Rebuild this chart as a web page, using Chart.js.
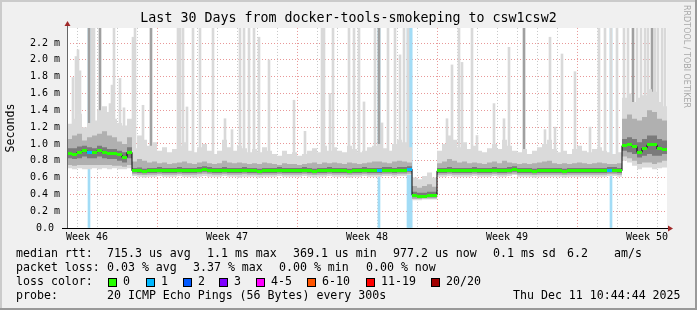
<!DOCTYPE html>
<html>
<head>
<meta charset="utf-8">
<script src="https://cdn.jsdelivr.net/npm/chart.js@4.4.0/dist/chart.umd.min.js"></script>
<style>
  html, body { margin: 0; padding: 0; background: #f0f0f0; }
</style>
</head>
<body>
<canvas id="chart" width="697" height="310"></canvas>
<script>
// one sample every 6 hours over the 30 day window (values in ms)
const STEP = 0.25;
const Y_MAX = 2.38;

const median = [
  0.89,0.88,0.90,0.92,0.90,0.90,0.92,0.90,0.89,0.89,0.87,0.84,0.90,
  0.68,0.68,0.67,0.68,0.68,0.69,0.68,0.68,
  0.68,0.69,0.68,0.68,0.68,0.69,0.70,0.69,
  0.68,0.68,0.69,0.68,0.68,0.68,0.69,0.68,
  0.68,0.67,0.68,0.68,0.68,0.69,0.68,0.68,
  0.68,0.68,0.69,0.68,0.67,0.68,0.68,0.69,
  0.68,0.68,0.68,0.67,0.68,0.68,0.69,0.68,
  0.68,0.68,0.69,0.69,0.68,0.69,0.69,0.70,
  0.39,0.38,0.38,0.39,0.39,
  0.68,0.68,0.69,0.68,0.68,0.68,0.68,0.69,
  0.68,0.68,0.68,0.69,0.68,0.68,0.69,0.70,
  0.68,0.68,0.68,0.67,0.68,0.68,0.68,0.68,
  0.68,0.67,0.68,0.68,0.68,0.68,0.68,0.68,
  0.68,0.68,0.69,0.69,0.68,
  0.98,0.99,0.97,0.90,0.95,0.99,0.99,0.94,0.93
];

// smoke: inner (dark), middle and outer (light) ping spread
const darkLo = [
  0.83,0.82,0.83,0.85,0.83,0.83,0.85,0.83,0.82,0.82,0.80,0.78,0.83,
  0.66,0.655,0.65,0.655,0.655,0.66,0.655,0.655,
  0.655,0.66,0.655,0.655,0.655,0.66,0.67,0.66,
  0.655,0.655,0.66,0.655,0.655,0.655,0.66,0.655,
  0.655,0.65,0.655,0.655,0.655,0.66,0.655,0.655,
  0.655,0.655,0.66,0.655,0.65,0.655,0.655,0.66,
  0.655,0.655,0.655,0.65,0.655,0.655,0.66,0.655,
  0.655,0.655,0.66,0.66,0.655,0.66,0.66,0.67,
  0.365,0.36,0.36,0.365,0.365,
  0.655,0.655,0.66,0.655,0.655,0.655,0.655,0.66,
  0.655,0.655,0.655,0.66,0.655,0.655,0.66,0.67,
  0.655,0.655,0.655,0.65,0.655,0.655,0.655,0.655,
  0.655,0.65,0.655,0.655,0.655,0.655,0.655,0.655,
  0.655,0.655,0.66,0.66,0.655,
  0.92,0.90,0.88,0.84,0.86,0.88,0.86,0.86,0.88
];
const darkHi = [
  0.95,0.95,0.97,0.98,0.96,0.95,0.98,0.96,0.94,0.94,0.92,0.90,0.96,
  0.715,0.72,0.705,0.715,0.715,0.725,0.715,0.715,
  0.715,0.725,0.715,0.715,0.715,0.725,0.735,0.725,
  0.715,0.715,0.725,0.715,0.715,0.715,0.725,0.715,
  0.715,0.705,0.715,0.715,0.715,0.725,0.715,0.715,
  0.715,0.715,0.725,0.715,0.705,0.715,0.715,0.725,
  0.715,0.715,0.715,0.705,0.715,0.715,0.725,0.715,
  0.715,0.715,0.725,0.725,0.715,0.725,0.725,0.735,
  0.43,0.42,0.42,0.43,0.43,
  0.715,0.715,0.725,0.715,0.715,0.715,0.715,0.725,
  0.715,0.715,0.715,0.725,0.715,0.715,0.725,0.735,
  0.715,0.715,0.715,0.705,0.715,0.715,0.715,0.715,
  0.715,0.705,0.715,0.715,0.715,0.715,0.715,0.715,
  0.715,0.715,0.725,0.725,0.715,
  1.06,1.08,1.06,1.02,1.06,1.10,1.10,1.06,1.04
];
const midLo = [
  0.75,0.74,0.75,0.75,0.75,0.75,0.75,0.75,0.75,0.74,0.74,0.73,0.75,
  0.64,0.635,0.63,0.635,0.635,0.64,0.635,0.635,
  0.635,0.64,0.635,0.635,0.635,0.64,0.645,0.64,
  0.635,0.635,0.64,0.635,0.635,0.635,0.64,0.635,
  0.635,0.63,0.635,0.635,0.635,0.64,0.635,0.635,
  0.635,0.635,0.64,0.635,0.63,0.635,0.635,0.64,
  0.635,0.635,0.635,0.63,0.635,0.635,0.64,0.635,
  0.635,0.635,0.64,0.64,0.635,0.64,0.64,0.645,
  0.345,0.345,0.35,0.35,0.35,
  0.635,0.635,0.64,0.635,0.635,0.635,0.635,0.64,
  0.635,0.635,0.635,0.64,0.635,0.635,0.64,0.645,
  0.635,0.635,0.635,0.63,0.635,0.635,0.635,0.635,
  0.635,0.63,0.635,0.635,0.635,0.635,0.635,0.635,
  0.635,0.635,0.64,0.64,0.635,
  0.85,0.83,0.80,0.76,0.78,0.78,0.76,0.78,0.80
];
const midHi = [
  1.06,1.10,1.12,1.04,1.08,1.10,1.12,1.15,1.10,1.08,1.03,1.00,1.08,
  0.79,0.82,0.80,0.78,0.79,0.77,0.78,0.76,
  0.77,0.78,0.79,0.77,0.76,0.78,0.79,0.77,
  0.76,0.77,0.80,0.78,0.77,0.78,0.77,0.76,
  0.77,0.76,0.78,0.77,0.76,0.75,0.77,0.76,
  0.76,0.75,0.76,0.77,0.78,0.76,0.78,0.77,
  0.78,0.77,0.76,0.78,0.77,0.76,0.77,0.78,
  0.79,0.79,0.78,0.77,0.79,0.80,0.79,0.78,
  0.50,0.48,0.50,0.52,0.49,
  0.77,0.79,0.82,0.80,0.78,0.79,0.77,0.78,
  0.77,0.76,0.78,0.79,0.77,0.80,0.78,0.77,
  0.76,0.77,0.76,0.77,0.78,0.79,0.80,0.77,
  0.76,0.77,0.76,0.77,0.78,0.77,0.76,0.77,
  0.78,0.77,0.76,0.76,0.77,
  1.30,1.35,1.30,1.28,1.32,1.40,1.38,1.30,1.28
];
const lightLo = [
  0.71,0.70,0.71,0.70,0.70,0.71,0.70,0.71,0.70,0.71,0.70,0.70,0.71,
  0.62,0.61,0.60,0.61,0.61,0.62,0.61,0.61,
  0.61,0.62,0.61,0.61,0.60,0.61,0.62,0.61,
  0.61,0.61,0.62,0.61,0.61,0.60,0.61,0.61,
  0.61,0.60,0.61,0.61,0.61,0.62,0.61,0.61,
  0.61,0.61,0.62,0.61,0.60,0.61,0.61,0.62,
  0.61,0.61,0.61,0.60,0.61,0.61,0.62,0.61,
  0.61,0.61,0.62,0.62,0.61,0.62,0.62,0.63,
  0.33,0.33,0.34,0.34,0.34,
  0.61,0.61,0.62,0.61,0.61,0.61,0.61,0.62,
  0.61,0.61,0.61,0.62,0.61,0.61,0.62,0.63,
  0.61,0.61,0.61,0.60,0.61,0.61,0.61,0.61,
  0.61,0.60,0.61,0.61,0.61,0.61,0.61,0.61,
  0.61,0.61,0.62,0.62,0.61,
  0.80,0.78,0.74,0.70,0.72,0.72,0.70,0.71,0.72
];
const lightHi = [
  1.24,1.30,1.36,1.20,1.25,1.28,1.40,1.45,1.38,1.30,1.25,1.22,1.30,
  0.95,1.10,1.05,0.98,1.02,0.92,0.96,0.90,
  0.94,0.98,1.02,0.92,0.90,0.96,1.00,0.92,
  0.88,0.92,1.05,0.96,0.92,0.98,0.95,0.90,
  0.94,0.90,0.96,0.92,0.88,0.86,0.92,0.88,
  0.90,0.86,0.88,0.92,0.95,0.90,0.98,0.92,
  0.96,0.92,0.90,0.98,0.94,0.90,0.92,0.96,
  0.98,1.00,0.95,0.92,1.00,1.05,1.02,0.96,
  0.60,0.58,0.62,0.66,0.60,
  0.92,1.00,1.10,1.05,0.96,1.02,0.94,0.98,
  0.92,0.90,0.95,1.00,0.94,1.05,0.98,0.92,
  0.90,0.94,0.88,0.92,0.96,1.00,1.05,0.94,
  0.90,0.92,0.88,0.94,0.98,0.92,0.90,0.94,
  0.96,0.92,0.90,0.88,0.90,
  1.55,1.60,1.50,1.55,1.58,1.65,1.62,1.50,1.45
];

// single slow pings (spikes), day of the window and peak in ms
const lightSpikeDays = [0.3,0.45,0.55,0.65,1.25,1.35,2.0,2.15,2.25,2.35,2.65,2.85,3.3,3.4,3.8,
  5.55,5.65,5.8,6.0,6.3,6.65,7.3,7.9,8.25,8.65,8.85,9.1,9.35,9.6,10.1,11.35,11.9,12.75,12.85,
  13.15,13.3,14.1,14.35,14.6,14.85,15.4,15.75,16.05,16.4,16.65,16.85,17.05,19.0,19.25,19.6,
  19.75,20.25,20.5,21.35,21.85,22.1,23.9,24.15,24.4,24.75,25.4,26.15,26.6,26.9,27.2,27.5,
  27.85,28.05,28.5,28.7,28.9,29.05,29.4,29.55,29.75,29.9];
const lightSpikeTops = [1.79,2.04,2.12,1.87,2.4,2.4,1.35,1.48,1.70,2.4,1.78,1.43,2.27,2.4,1.46,
  2.4,2.4,2.4,1.44,2.4,2.4,2.4,1.30,1.17,2.4,2.4,2.4,2.4,2.27,2.0,1.52,1.15,2.4,2.4,
  1.6,2.4,2.4,2.38,2.4,1.5,2.4,1.25,2.4,2.4,2.06,2.4,2.4,1.3,1.94,2.4,
  1.97,2.4,1.1,1.48,1.3,2.15,1.17,2.27,1.2,2.07,1.86,1.2,2.4,2.4,2.4,2.4,
  2.4,2.4,2.4,2.4,2.4,2.4,2.4,2.4,2.4,2.4];
const darkSpikeDays = [1.1, 1.65, 4.2, 15.6, 22.85, 28.3, 29.25];
const darkSpikeTops = [2.4, 2.4, 2.4, 2.4, 2.4, 2.4, 2.4];

// packet loss events (pings lost out of 20)
const lossDays = [1.1, 15.6, 17.05, 17.13, 17.21, 27.2];
const lossCounts = [1, 1, 1, 1, 1, 1];

const lossLabels = ['0', '1', '2', '3', '4-5', '6-10', '11-19', '20/20'];
const lossColors = ['#26ff00', '#00b8ff', '#0059ff', '#7e00ff', '#ff00ff', '#ff5500', '#ff0000', '#a10000'];
const lossLimits = [0, 1, 2, 3, 5, 10, 19, 20];

const weekLabels = ['Week 46', 'Week 47', 'Week 48', 'Week 49', 'Week 50'];
const weekLabelDays = [1, 8, 15, 22, 29];
const weekStartDays = [4.5, 11.5, 18.5, 25.5];
const yTicks = Array.from({length: 24}, (_, i) => i / 10);
const dayLines = Array.from({length: 30}, (_, i) => i + 0.5);

const titleText = 'Last 30 Days from docker-tools-smokeping to csw1csw2';
const rttStats = ['715.3 us avg', '1.1 ms max', '369.1 us min', '977.2 us now', '0.1 ms sd', '6.2', 'am/s'];
const lossStats = ['0.03 % avg', '3.37 % max', '0.00 % min', '0.00 % now'];
const probeText = '20 ICMP Echo Pings (56 Bytes) every 300s';
const stampText = 'Thu Dec 11 10:44:44 2025';

// ---- helpers
const MONO = '"DejaVu Sans Mono", monospace';
const GRID_MINOR = '#c8c8c8';
const GRID_MAJOR = '#e89898';
const stepPts = arr => arr.map((v, i) => ({x: i * STEP, y: v})).concat([{x: 30, y: arr[arr.length - 1]}]);
const medianAt = d => median[Math.min(median.length - 1, Math.floor(d / STEP))];
const lossBucket = n => lossLimits.findIndex(l => n <= l);

const sampleLoss = median.map((_, i) => {
  let n = 0;
  lossDays.forEach((d, k) => {
    if (d >= i * STEP && d < (i + 1) * STEP) n = Math.max(n, lossCounts[k]);
  });
  return n;
});

// little horizontal dash used as the median marker
function dash(color) {
  const c = document.createElement('canvas');
  c.width = 5; c.height = 3;
  const g = c.getContext('2d');
  g.fillStyle = color;
  g.fillRect(0, 0, 5, 3);
  return c;
}
const dashes = lossColors.map(dash);

function band(lo, hi, color, order) {
  return [
    { type: 'line', data: stepPts(lo), stepped: true, pointRadius: 0, borderColor: 'transparent', borderWidth: 0, fill: false, order: order },
    { type: 'line', data: stepPts(hi), stepped: true, pointRadius: 0, borderColor: 'transparent', borderWidth: 0, fill: '-1', backgroundColor: color, order: order }
  ];
}

const decor = {
  id: 'decor',
  beforeDraw(chart) {
    const {ctx, chartArea: a, width, height} = chart;
    ctx.save();
    ctx.fillStyle = '#f0f0f0';
    ctx.fillRect(0, 0, width, height);
    ctx.fillStyle = '#cbcbcb';
    ctx.fillRect(0, 0, width, 2);
    ctx.fillRect(0, 0, 2, height);
    ctx.fillStyle = '#999999';
    ctx.fillRect(width - 2, 0, 2, height);
    ctx.fillRect(0, height - 2, width, 2);
    ctx.fillStyle = '#ffffff';
    ctx.fillRect(a.left, a.top, a.right - a.left, a.bottom - a.top);
    ctx.restore();
  },
  afterDatasetsDraw(chart) {
    const {ctx, chartArea: a} = chart;
    ctx.save();
    ctx.fillStyle = '#666666';
    ctx.fillRect(a.left, a.top - 4, 1, a.bottom - a.top + 4);
    ctx.fillStyle = '#000000';
    ctx.fillRect(a.left - 5, a.bottom, a.right - a.left + 7, 1);
    ctx.fillStyle = '#a02828';
    ctx.beginPath();
    ctx.moveTo(a.left - 2.5, a.top - 2);
    ctx.lineTo(a.left + 3.5, a.top - 2);
    ctx.lineTo(a.left + 0.5, a.top - 7);
    ctx.fill();
    ctx.beginPath();
    ctx.moveTo(a.right + 1, a.bottom - 2.5);
    ctx.lineTo(a.right + 1, a.bottom + 3.5);
    ctx.lineTo(a.right + 6, a.bottom + 0.5);
    ctx.fill();
    ctx.restore();
  },
  afterDraw(chart) {
    const ctx = chart.ctx;
    ctx.save();
    ctx.font = '11.6px ' + MONO;
    ctx.fillStyle = '#000';
    ctx.textBaseline = 'middle';
    const row = (y, items) => items.forEach(([t, x]) => ctx.fillText(t, x, y));
    row(254, [['median rtt:', 16], [rttStats[0], 107], [rttStats[1], 207], [rttStats[2], 293],
      [rttStats[3], 393], [rttStats[4], 493], [rttStats[5], 567], [rttStats[6], 614]]);
    row(268, [['packet loss:', 16], [lossStats[0], 107], [lossStats[1], 193], [lossStats[2], 279], [lossStats[3], 366]]);
    ctx.fillText('loss color:', 16, 282);
    const boxX = [108, 146, 183, 219, 256, 307, 366, 431];
    lossLabels.forEach((l, i) => {
      ctx.fillStyle = '#000';
      ctx.fillRect(boxX[i], 278, 9, 9);
      ctx.fillStyle = lossColors[i];
      ctx.fillRect(boxX[i] + 1, 279, 7, 7);
      ctx.fillStyle = '#000';
      ctx.fillText(l, boxX[i] + 15, 282);
    });
    row(296, [['probe:', 16], [probeText, 107], [stampText, 513]]);

    ctx.translate(686, 5);
    ctx.rotate(Math.PI / 2);
    ctx.font = '8px "DejaVu Sans", sans-serif';
    ctx.fillStyle = '#a8a8a8';
    ctx.textBaseline = 'middle';
    ctx.fillText('RRDTOOL / TOBI OETIKER', 0, 0);
    ctx.restore();
  }
};

const datasets = [
  // median markers coloured by loss
  { type: 'line', showLine: false, order: 1,
    data: median.map((v, i) => ({x: i * STEP + STEP / 2, y: v})),
    pointRadius: 3, pointStyle: c => dashes[lossBucket(sampleLoss[c.dataIndex] || 0)] },
  { type: 'line', order: 2, data: stepPts(median), stepped: true, pointRadius: 0,
    borderColor: '#000000', borderWidth: 1, fill: false },
  ...band(darkLo, darkHi, '#7a7a7a', 3),
  ...band(midLo, midHi, '#b0b0b0', 4),
  ...band(lightLo, lightHi, '#dadada', 5),
  { type: 'bar', order: 6, grouped: false, barThickness: 2, backgroundColor: '#a0a0a0', borderWidth: 0,
    data: darkSpikeDays.map((d, k) => ({x: d, y: [medianAt(d), darkSpikeTops[k]]})) },
  { type: 'bar', order: 7, grouped: false, barThickness: 2, backgroundColor: '#d9d9d9', borderWidth: 0,
    data: lightSpikeDays.map((d, k) => ({x: d, y: [medianAt(d), lightSpikeTops[k]]})) },
  { type: 'bar', order: 8, grouped: false, barThickness: 2, backgroundColor: '#a2dcf6', borderWidth: 0,
    data: lossDays.map(d => ({x: d, y: [0, Y_MAX]})) }
];

new Chart(document.getElementById('chart'), {
  type: 'line',
  data: { datasets },
  plugins: [decor],
  options: {
    responsive: false,
    animation: false,
    devicePixelRatio: 1,
    events: [],
    layout: { padding: 0 },
    plugins: {
      legend: { display: false },
      tooltip: { enabled: false },
      title: {
        display: true, text: titleText, color: '#000',
        font: { family: MONO, size: 13.3, weight: 'normal' },
        padding: { top: 10.5, bottom: 1.5 }
      }
    },
    scales: {
      x: {
        type: 'linear', position: 'bottom', min: 0, max: 30, offset: false,
        afterBuildTicks: s => { s.ticks = dayLines.map(v => ({value: v})); },
        afterFit: s => { s.height = 0; },
        ticks: { display: false },
        grid: { drawTicks: false, offset: false,
          color: c => (c.tick && weekStartDays.includes(c.tick.value)) ? GRID_MAJOR : GRID_MINOR },
        border: { display: false, dash: [1, 2] }
      },
      xl: {
        type: 'linear', position: 'bottom', min: 0, max: 30, offset: false,
        afterBuildTicks: s => { s.ticks = weekLabelDays.map(v => ({value: v})); },
        afterFit: s => { s.height = 82; },
        ticks: { autoSkip: false, maxRotation: 0, padding: 3, color: '#000',
          font: { family: MONO, size: 10 },
          callback: (v, i) => weekLabels[i] },
        grid: { display: false, drawTicks: false, offset: false },
        border: { display: false }
      },
      y: {
        type: 'linear', position: 'left', min: 0, max: Y_MAX,
        afterBuildTicks: s => { s.ticks = yTicks.map(v => ({value: v})); },
        afterFit: s => { s.width = 67; },
        ticks: { padding: 7, color: '#000', font: { family: MONO, size: 10 },
          callback: (v, i) => i % 2 ? '' : (i === 0 ? '0.0 ' : v.toFixed(1) + ' m') },
        grid: { drawTicks: false,
          color: c => (c.tick && c.index % 2 === 0) ? GRID_MAJOR : GRID_MINOR },
        border: { display: false, dash: [1, 2] },
        title: { display: true, text: 'Seconds', color: '#000',
          font: { family: MONO, size: 11.6 }, padding: { top: 4, bottom: 0 } }
      },
      yr: {
        type: 'linear', position: 'right',
        afterFit: s => { s.width = 30; },
        ticks: { display: false },
        grid: { display: false, drawTicks: false },
        border: { display: false }
      }
    }
  }
});
</script>
</body>
</html>
